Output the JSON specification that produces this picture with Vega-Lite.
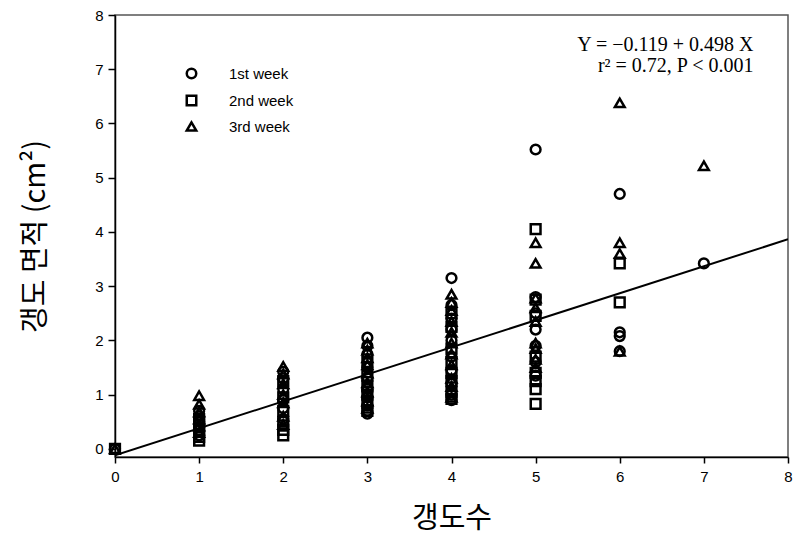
{
  "$schema": "https://vega.github.io/schema/vega-lite/v6.json",
  "width": 673,
  "height": 442,
  "autosize": {"type": "none"},
  "padding": {"left": 115, "top": 15, "right": 5, "bottom": 86},
  "background": "white",
  "config": {
    "view": {"stroke": "#555555", "strokeWidth": 1.5},
    "font": "Liberation Sans",
    "axis": {
      "domainColor": "black",
      "domainWidth": 1.5,
      "tickColor": "black",
      "tickWidth": 1.5,
      "grid": false,
      "labelColor": "black",
      "labelFont": "Liberation Sans",
      "labelFontSize": 15,
      "format": "d",
      "titleFont": "Noto Sans CJK KR",
      "titleFontWeight": "normal",
      "titleFontSize": 29,
      "titleColor": "black"
    }
  },
  "datasets": {
    "pts": [
      {"x": 0, "y": 0, "week": "1st week"},
      {"x": 0, "y": 0, "week": "2nd week"},
      {"x": 0, "y": 0, "week": "3rd week"},
      {"x": 1, "y": 0.98, "week": "3rd week"},
      {"x": 1, "y": 0.82, "week": "3rd week"},
      {"x": 1, "y": 0.68, "week": "3rd week"},
      {"x": 1, "y": 0.55, "week": "3rd week"},
      {"x": 1, "y": 0.42, "week": "3rd week"},
      {"x": 1, "y": 0.3, "week": "3rd week"},
      {"x": 1, "y": 0.25, "week": "1st week"},
      {"x": 1, "y": 0.4, "week": "1st week"},
      {"x": 1, "y": 0.5, "week": "1st week"},
      {"x": 1, "y": 0.6, "week": "1st week"},
      {"x": 1, "y": 0.7, "week": "1st week"},
      {"x": 1, "y": 0.15, "week": "2nd week"},
      {"x": 1, "y": 0.22, "week": "2nd week"},
      {"x": 1, "y": 0.35, "week": "2nd week"},
      {"x": 1, "y": 0.45, "week": "2nd week"},
      {"x": 1, "y": 0.55, "week": "2nd week"},
      {"x": 2, "y": 1.52, "week": "3rd week"},
      {"x": 2, "y": 1.38, "week": "3rd week"},
      {"x": 2, "y": 1.2, "week": "3rd week"},
      {"x": 2, "y": 1.0, "week": "3rd week"},
      {"x": 2, "y": 0.85, "week": "3rd week"},
      {"x": 2, "y": 0.6, "week": "3rd week"},
      {"x": 2, "y": 0.45, "week": "3rd week"},
      {"x": 2, "y": 1.42, "week": "1st week"},
      {"x": 2, "y": 1.3, "week": "1st week"},
      {"x": 2, "y": 1.1, "week": "1st week"},
      {"x": 2, "y": 0.9, "week": "1st week"},
      {"x": 2, "y": 0.75, "week": "1st week"},
      {"x": 2, "y": 0.55, "week": "1st week"},
      {"x": 2, "y": 1.25, "week": "2nd week"},
      {"x": 2, "y": 0.95, "week": "2nd week"},
      {"x": 2, "y": 0.7, "week": "2nd week"},
      {"x": 2, "y": 0.5, "week": "2nd week"},
      {"x": 2, "y": 0.35, "week": "2nd week"},
      {"x": 2, "y": 0.25, "week": "2nd week"},
      {"x": 3, "y": 2.05, "week": "1st week"},
      {"x": 3, "y": 1.9, "week": "1st week"},
      {"x": 3, "y": 1.75, "week": "1st week"},
      {"x": 3, "y": 1.5, "week": "1st week"},
      {"x": 3, "y": 1.3, "week": "1st week"},
      {"x": 3, "y": 1.1, "week": "1st week"},
      {"x": 3, "y": 0.95, "week": "1st week"},
      {"x": 3, "y": 0.8, "week": "1st week"},
      {"x": 3, "y": 0.7, "week": "1st week"},
      {"x": 3, "y": 0.65, "week": "1st week"},
      {"x": 3, "y": 1.95, "week": "3rd week"},
      {"x": 3, "y": 1.82, "week": "3rd week"},
      {"x": 3, "y": 1.68, "week": "3rd week"},
      {"x": 3, "y": 1.55, "week": "3rd week"},
      {"x": 3, "y": 1.4, "week": "3rd week"},
      {"x": 3, "y": 1.22, "week": "3rd week"},
      {"x": 3, "y": 1.05, "week": "3rd week"},
      {"x": 3, "y": 0.88, "week": "3rd week"},
      {"x": 3, "y": 0.75, "week": "3rd week"},
      {"x": 3, "y": 1.6, "week": "2nd week"},
      {"x": 3, "y": 1.35, "week": "2nd week"},
      {"x": 3, "y": 1.15, "week": "2nd week"},
      {"x": 3, "y": 1.0, "week": "2nd week"},
      {"x": 3, "y": 0.85, "week": "2nd week"},
      {"x": 3, "y": 0.7, "week": "2nd week"},
      {"x": 4, "y": 3.15, "week": "1st week"},
      {"x": 4, "y": 2.65, "week": "1st week"},
      {"x": 4, "y": 2.4, "week": "1st week"},
      {"x": 4, "y": 2.2, "week": "1st week"},
      {"x": 4, "y": 2.0, "week": "1st week"},
      {"x": 4, "y": 1.7, "week": "1st week"},
      {"x": 4, "y": 1.45, "week": "1st week"},
      {"x": 4, "y": 1.2, "week": "1st week"},
      {"x": 4, "y": 1.0, "week": "1st week"},
      {"x": 4, "y": 0.9, "week": "1st week"},
      {"x": 4, "y": 2.85, "week": "3rd week"},
      {"x": 4, "y": 2.7, "week": "3rd week"},
      {"x": 4, "y": 2.55, "week": "3rd week"},
      {"x": 4, "y": 2.35, "week": "3rd week"},
      {"x": 4, "y": 2.15, "week": "3rd week"},
      {"x": 4, "y": 1.95, "week": "3rd week"},
      {"x": 4, "y": 1.75, "week": "3rd week"},
      {"x": 4, "y": 1.55, "week": "3rd week"},
      {"x": 4, "y": 1.3, "week": "3rd week"},
      {"x": 4, "y": 1.15, "week": "3rd week"},
      {"x": 4, "y": 0.95, "week": "3rd week"},
      {"x": 4, "y": 2.5, "week": "2nd week"},
      {"x": 4, "y": 2.25, "week": "2nd week"},
      {"x": 4, "y": 1.85, "week": "2nd week"},
      {"x": 4, "y": 1.6, "week": "2nd week"},
      {"x": 4, "y": 1.4, "week": "2nd week"},
      {"x": 4, "y": 1.25, "week": "2nd week"},
      {"x": 4, "y": 1.05, "week": "2nd week"},
      {"x": 4, "y": 0.92, "week": "2nd week"},
      {"x": 5, "y": 5.52, "week": "1st week"},
      {"x": 5, "y": 2.8, "week": "1st week"},
      {"x": 5, "y": 2.5, "week": "1st week"},
      {"x": 5, "y": 2.2, "week": "1st week"},
      {"x": 5, "y": 1.9, "week": "1st week"},
      {"x": 5, "y": 1.6, "week": "1st week"},
      {"x": 5, "y": 1.35, "week": "1st week"},
      {"x": 5, "y": 4.05, "week": "2nd week"},
      {"x": 5, "y": 2.75, "week": "2nd week"},
      {"x": 5, "y": 2.45, "week": "2nd week"},
      {"x": 5, "y": 1.7, "week": "2nd week"},
      {"x": 5, "y": 1.4, "week": "2nd week"},
      {"x": 5, "y": 1.25, "week": "2nd week"},
      {"x": 5, "y": 1.1, "week": "2nd week"},
      {"x": 5, "y": 0.83, "week": "2nd week"},
      {"x": 5, "y": 3.8, "week": "3rd week"},
      {"x": 5, "y": 3.42, "week": "3rd week"},
      {"x": 5, "y": 2.78, "week": "3rd week"},
      {"x": 5, "y": 2.6, "week": "3rd week"},
      {"x": 5, "y": 2.35, "week": "3rd week"},
      {"x": 5, "y": 1.95, "week": "3rd week"},
      {"x": 5, "y": 1.85, "week": "3rd week"},
      {"x": 5, "y": 1.65, "week": "3rd week"},
      {"x": 5, "y": 1.5, "week": "3rd week"},
      {"x": 6, "y": 6.38, "week": "3rd week"},
      {"x": 6, "y": 3.8, "week": "3rd week"},
      {"x": 6, "y": 3.6, "week": "3rd week"},
      {"x": 6, "y": 1.8, "week": "3rd week"},
      {"x": 6, "y": 4.7, "week": "1st week"},
      {"x": 6, "y": 2.15, "week": "1st week"},
      {"x": 6, "y": 2.08, "week": "1st week"},
      {"x": 6, "y": 1.8, "week": "1st week"},
      {"x": 6, "y": 3.42, "week": "2nd week"},
      {"x": 6, "y": 2.7, "week": "2nd week"},
      {"x": 7, "y": 5.22, "week": "3rd week"},
      {"x": 7, "y": 3.42, "week": "1st week"}
    ],
    "fit": [
      {"x": 0, "y": -0.119},
      {"x": 8, "y": 3.865}
    ],
    "eq": [
      {"x": 7.59, "y": 7.34, "label": "Y = −0.119 + 0.498 X"},
      {"x": 7.59, "y": 6.95, "label": "r² = 0.72,  P < 0.001"}
    ]
  },
  "layer": [
    {
      "data": {"name": "fit"},
      "mark": {"type": "line", "color": "black", "strokeWidth": 2, "clip": true},
      "encoding": {
        "x": {"field": "x", "type": "quantitative"},
        "y": {"field": "y", "type": "quantitative"}
      }
    },
    {
      "data": {"name": "pts"},
      "mark": {"type": "point", "filled": false, "size": 95, "strokeWidth": 2.5, "color": "black", "opacity": 1},
      "encoding": {
        "x": {
          "field": "x", "type": "quantitative",
          "scale": {"domain": [0, 8], "nice": false, "zero": false},
          "axis": {"title": "갱도수", "values": [0,1,2,3,4,5,6,7,8], "tickSize": 6, "labelPadding": 6, "titlePadding": 20, "labelFlush": false}
        },
        "y": {
          "field": "y", "type": "quantitative",
          "scale": {"domain": [-0.15, 8], "nice": false, "zero": false},
          "axis": {"title": "갱도 면적 (cm²)", "values": [0,1,2,3,4,5,6,7,8], "tickSize": 7, "labelPadding": 5, "titlePadding": 44, "labelFlush": false}
        },
        "shape": {
          "field": "week", "type": "nominal",
          "scale": {"domain": ["1st week", "2nd week", "3rd week"], "range": ["circle", "square", "triangle-up"]},
          "legend": {
            "title": null,
            "orient": "none",
            "legendX": 69,
            "legendY": 51,
            "symbolSize": 90,
            "symbolStrokeWidth": 2.5,
            "symbolStrokeColor": "black",
            "symbolFillColor": "transparent",
            "labelFontSize": 15,
            "labelFont": "Liberation Sans",
            "labelColor": "black",
            "labelOffset": 30,
            "rowPadding": 6
          }
        }
      }
    },
    {
      "data": {"name": "eq"},
      "mark": {"type": "text", "align": "right", "baseline": "alphabetic", "font": "Liberation Serif", "fontSize": 20, "color": "black"},
      "encoding": {
        "x": {"field": "x", "type": "quantitative"},
        "y": {"field": "y", "type": "quantitative"},
        "text": {"field": "label"}
      }
    }
  ]
}
